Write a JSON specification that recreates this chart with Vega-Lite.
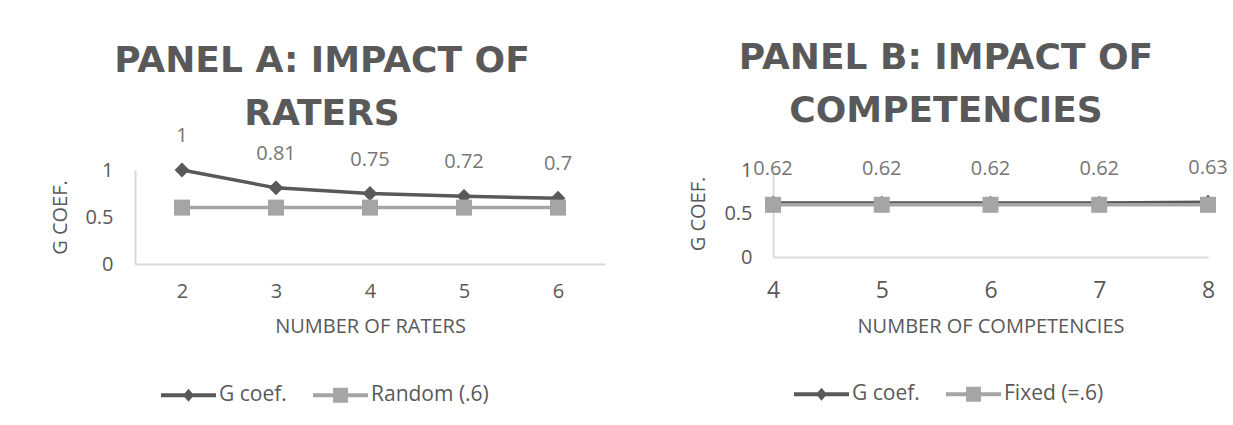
{
  "$schema": "https://vega.github.io/schema/vega-lite/v6.json",
  "padding": {"left": 50, "top": 39, "right": 0, "bottom": 0},
  "spacing": 83,
  "datasets": {
    "a": [
      {"n": 2, "series": "G coef.", "g": 1.0},
      {"n": 3, "series": "G coef.", "g": 0.81},
      {"n": 4, "series": "G coef.", "g": 0.75},
      {"n": 5, "series": "G coef.", "g": 0.72},
      {"n": 6, "series": "G coef.", "g": 0.70},
      {"n": 2, "series": "Random (.6)", "g": 0.6},
      {"n": 3, "series": "Random (.6)", "g": 0.6},
      {"n": 4, "series": "Random (.6)", "g": 0.6},
      {"n": 5, "series": "Random (.6)", "g": 0.6},
      {"n": 6, "series": "Random (.6)", "g": 0.6}
    ],
    "b": [
      {"n": 4, "series": "G coef.", "g": 0.62},
      {"n": 5, "series": "G coef.", "g": 0.62},
      {"n": 6, "series": "G coef.", "g": 0.62},
      {"n": 7, "series": "G coef.", "g": 0.62},
      {"n": 8, "series": "G coef.", "g": 0.63},
      {"n": 4, "series": "Fixed (=.6)", "g": 0.6},
      {"n": 5, "series": "Fixed (=.6)", "g": 0.6},
      {"n": 6, "series": "Fixed (=.6)", "g": 0.6},
      {"n": 7, "series": "Fixed (=.6)", "g": 0.6},
      {"n": 8, "series": "Fixed (=.6)", "g": 0.6}
    ]
  },
  "resolve": {
    "scale": {"color": "independent", "shape": "independent"},
    "legend": {"color": "independent", "shape": "independent"}
  },
  "hconcat": [
    {
      "width": 470,
      "height": 94,
      "data": {"name": "a"},
      "title": {"text": ["PANEL A: IMPACT OF", "RATERS"], "dx": -48, "offset": -6.5},
      "encoding": {
        "x": {
          "field": "n", "type": "ordinal",
          "scale": {"type": "point", "padding": 0.5},
          "axis": {"title": "NUMBER OF RATERS", "labelAngle": 0, "labelPadding": 17.5, "titlePadding": 15}
        },
        "y": {
          "field": "g", "type": "quantitative",
          "scale": {"domain": [0, 1], "nice": false},
          "axis": {"title": "G COEF.", "values": [0, 0.5, 1], "format": ".1~f", "labelPadding": 22, "titlePadding": 14}
        }
      },
      "layer": [
        {"transform": [{"filter": "datum.series === 'G coef.'"}], "mark": {"type": "line", "color": "#595959", "strokeWidth": 3.5}},
        {"transform": [{"filter": "datum.series === 'G coef.'"}], "mark": {"type": "point", "shape": "diamond", "filled": true, "color": "#595959", "size": 220, "opacity": 1}},
        {"transform": [{"filter": "datum.series !== 'G coef.'"}], "mark": {"type": "line", "color": "#a5a5a5", "strokeWidth": 3.5}},
        {"transform": [{"filter": "datum.series !== 'G coef.'"}], "mark": {"type": "point", "shape": "square", "filled": true, "color": "#a5a5a5", "size": 256, "opacity": 1}},
        {"transform": [{"filter": "datum.series === 'G coef.'"}], "mark": {"type": "text", "dy": -34, "fontSize": 20, "color": "#767676", "baseline": "middle"}, "encoding": {"text": {"field": "g", "type": "quantitative", "format": ".2~f"}}},
        {
          "transform": [{"filter": "datum.g > 5"}],
          "mark": {"type": "point", "filled": true, "opacity": 1},
          "encoding": {
            "color": {"field": "series", "type": "nominal", "scale": {"domain": ["G coef.", "Random (.6)"], "range": ["#595959", "#a5a5a5"]},
              "legend": {"orient": "none", "legendX": 26, "legendY": 197.5, "title": null, "direction": "horizontal"}},
            "shape": {"field": "series", "type": "nominal", "scale": {"domain": ["G coef.", "Random (.6)"], "range": ["M-1,-0.07L1,-0.07L1,0.07L-1,0.07Z M0,-0.24L0.2,0L0,0.24L-0.2,0Z", "M-1,-0.07L1,-0.07L1,0.07L-1,0.07Z M-0.27,-0.27L0.27,-0.27L0.27,0.27L-0.27,0.27Z"]},
              "legend": {"orient": "none", "legendX": 26, "legendY": 197.5, "title": null, "direction": "horizontal"}}
          }
        }
      ]
    },
    {
      "width": 435,
      "height": 87,
      "data": {"name": "b"},
      "title": {"text": ["PANEL B: IMPACT OF", "COMPETENCIES"], "dx": -44.5, "offset": 28.5},
      "encoding": {
        "x": {
          "field": "n", "type": "ordinal",
          "scale": {"type": "point", "padding": 0},
          "axis": {"title": "NUMBER OF COMPETENCIES", "labelAngle": 0, "labelFontSize": 23, "labelPadding": 22, "titlePadding": 14}
        },
        "y": {
          "field": "g", "type": "quantitative",
          "scale": {"domain": [0, 1], "nice": false},
          "axis": {"title": "G COEF.", "values": [0, 0.5, 1], "format": ".1~f", "labelPadding": 21, "titlePadding": 15}
        }
      },
      "layer": [
        {"transform": [{"filter": "datum.series === 'G coef.'"}], "mark": {"type": "line", "color": "#595959", "strokeWidth": 3.5}},
        {"transform": [{"filter": "datum.series === 'G coef.'"}], "mark": {"type": "point", "shape": "diamond", "filled": true, "color": "#595959", "size": 220, "opacity": 1}},
        {"transform": [{"filter": "datum.series !== 'G coef.'"}], "mark": {"type": "line", "color": "#a5a5a5", "strokeWidth": 3.5}},
        {"transform": [{"filter": "datum.series !== 'G coef.'"}], "mark": {"type": "point", "shape": "square", "filled": true, "color": "#a5a5a5", "size": 256, "opacity": 1}},
        {"transform": [{"filter": "datum.series === 'G coef.'"}], "mark": {"type": "text", "dy": -34, "fontSize": 20, "color": "#767676", "baseline": "middle"}, "encoding": {"text": {"field": "g", "type": "quantitative", "format": ".2~f"}}},
        {
          "transform": [{"filter": "datum.g > 5"}],
          "mark": {"type": "point", "filled": true, "opacity": 1},
          "encoding": {
            "color": {"field": "series", "type": "nominal", "scale": {"domain": ["G coef.", "Fixed (=.6)"], "range": ["#595959", "#a5a5a5"]},
              "legend": {"orient": "none", "legendX": 21, "legendY": 196.5, "title": null, "direction": "horizontal"}},
            "shape": {"field": "series", "type": "nominal", "scale": {"domain": ["G coef.", "Fixed (=.6)"], "range": ["M-1,-0.07L1,-0.07L1,0.07L-1,0.07Z M0,-0.24L0.2,0L0,0.24L-0.2,0Z", "M-1,-0.07L1,-0.07L1,0.07L-1,0.07Z M-0.27,-0.27L0.27,-0.27L0.27,0.27L-0.27,0.27Z"]},
              "legend": {"orient": "none", "legendX": 21, "legendY": 196.5, "title": null, "direction": "horizontal"}}
          }
        }
      ]
    }
  ],
  "config": {
    "font": "Open Sans",
    "background": "white",
    "view": {"stroke": null},
    "axis": {
      "domainColor": "#d9d9d9", "domainWidth": 2, "ticks": false, "tickSize": 0, "grid": false,
      "labelColor": "#595959", "labelFontSize": 20, "labelFont": "Open Sans",
      "titleColor": "#595959", "titleFontWeight": "normal", "titleFontSize": 20, "titleFont": "Open Sans"
    },
    "title": {"fontSize": 36, "fontWeight": "bold", "color": "#595959", "lineHeight": 53, "anchor": "middle", "font": "DejaVu Sans"},
    "legend": {
      "symbolSize": 3025, "symbolStrokeWidth": 0, "labelFontSize": 21, "labelColor": "#595959", "labelFont": "Open Sans",
      "labelOffset": 3, "columnPadding": 26, "padding": 0
    }
  }
}
